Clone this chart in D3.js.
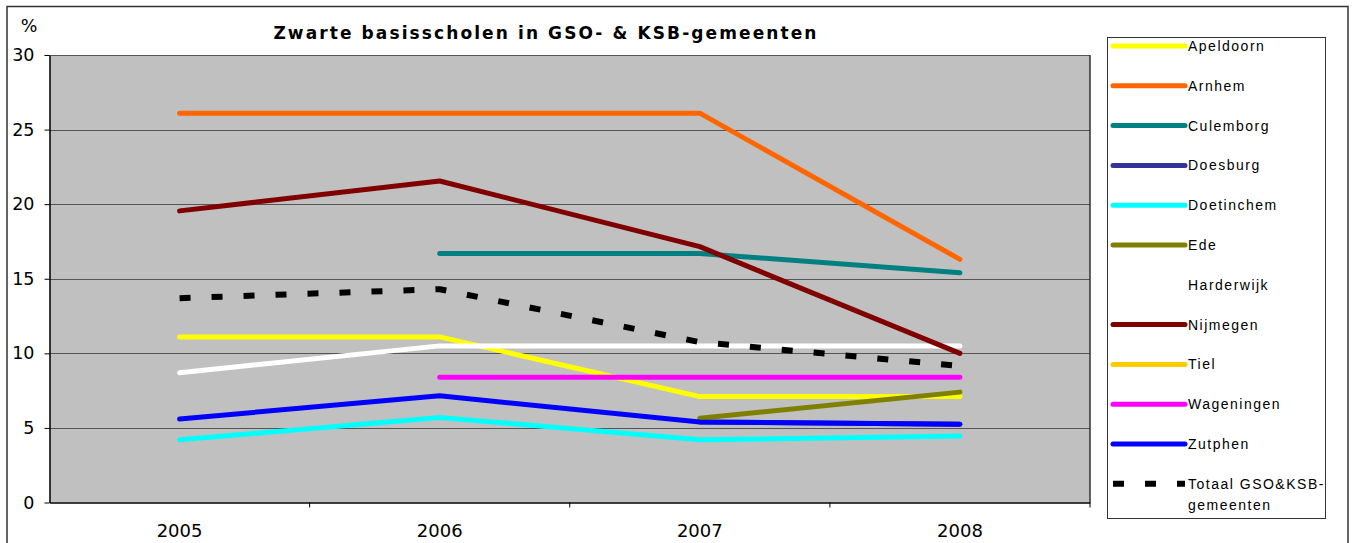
<!DOCTYPE html>
<html>
<head>
<meta charset="utf-8">
<script src="https://cdn.jsdelivr.net/npm/d3@7"></script>
<style>
  body { margin: 0; background: #fff; }
  svg { display: block; }
</style>
</head>
<body>
<svg id="chart"></svg>
<script>
// data
var years = ["2005", "2006", "2007", "2008"];
var yTicks = [0, 5, 10, 15, 20, 25, 30];

var apeldoorn  = [11.1, 11.1, 7.1, 7.1];
var arnhem     = [26.1, 26.1, 26.1, 16.3];
var culemborg  = [null, 16.7, 16.7, 15.4];
var doesburg   = [null, null, 5.4, 5.25];
var doetinchem = [4.2, 5.7, 4.2, 4.45];
var ede        = [null, null, 5.65, 7.4];
var harderwijk = [8.7, 10.5, 10.5, 10.5];
var nijmegen   = [19.55, 21.55, 17.15, 10.0];
var tiel       = [null, null, null, null];
var wageningen = [null, 8.4, 8.4, 8.4];
var zutphen    = [5.6, 7.15, 5.4, 5.25];
var totaal     = [13.7, 14.3, 10.75, 9.15];

var series = [
	{ name: "Apeldoorn", values: apeldoorn, color: "#ffff00" },
	{ name: "Arnhem", values: arnhem, color: "#ff6600" },
	{ name: "Culemborg", values: culemborg, color: "#008080" },
	{ name: "Doesburg", values: doesburg, color: "#333399" },
	{ name: "Doetinchem", values: doetinchem, color: "#00ffff" },
	{ name: "Ede", values: ede, color: "#808000" },
	{ name: "Harderwijk", values: harderwijk, color: "#ffffff" },
	{ name: "Nijmegen", values: nijmegen, color: "#800000" },
	{ name: "Tiel", values: tiel, color: "#ffcc00" },
	{ name: "Wageningen", values: wageningen, color: "#ff00ff" },
	{ name: "Zutphen", values: zutphen, color: "#0000ff" },
	{ name: "Totaal GSO&KSB-|gemeenten", values: totaal, color: "#000000", dashed: true }
];

var width = 1354, height = 543;
var plotLeft = 49.5, plotRight = 1090, plotTop = 55, plotBottom = 502.5;

var svg = d3.select("#chart")
	.attr("width", width)
	.attr("height", height);

// outer chart border
svg.append("rect")
	.attr("x", 7).attr("y", 6.5)
	.attr("width", 1341).attr("height", 560)
	.attr("fill", "#fff")
	.attr("stroke", "#333")
	.attr("stroke-width", 1.5);

var xScale = d3.scaleBand()
	.domain(years)
	.range([plotLeft, plotRight]);

var yScale = d3.scaleLinear()
	.domain([0, 30])
	.range([plotBottom, plotTop]);

// plot area
svg.append("rect")
	.attr("x", plotLeft).attr("y", plotTop)
	.attr("width", plotRight - plotLeft).attr("height", plotBottom - plotTop)
	.attr("fill", "#c0c0c0");

// gridlines
svg.append("g")
	.selectAll("line")
	.data(yTicks.filter(d => d > 0))
	.enter()
	.append("line")
		.attr("x1", plotLeft).attr("x2", plotRight)
		.attr("y1", d => Math.round(yScale(d)) + 0.5)
		.attr("y2", d => Math.round(yScale(d)) + 0.5)
		.attr("stroke", "#555")
		.attr("stroke-width", 1);

// right border of the plot
svg.append("line")
	.attr("x1", plotRight).attr("x2", plotRight)
	.attr("y1", plotTop).attr("y2", plotBottom)
	.attr("stroke", "#333")
	.attr("stroke-width", 1.5);

// y axis
var yAxis = d3.axisLeft(yScale)
	.tickValues(yTicks)
	.tickSize(5)
	.tickSizeOuter(0)
	.tickPadding(10);

var yG = svg.append("g")
	.attr("transform", `translate(${plotLeft}, 0)`)
	.call(yAxis);
yG.select(".domain").attr("stroke", "#000").attr("stroke-width", 1.5);
yG.selectAll(".tick line").attr("stroke", "#000");
yG.selectAll(".tick text")
	.attr("font-family", "DejaVu Sans")
	.attr("font-size", 17.5)
	.attr("fill", "#000");

// x axis: ticks at category boundaries
var xAxis = d3.axisBottom(xScale)
	.tickSize(0)
	.tickPadding(22);

var xG = svg.append("g")
	.attr("transform", `translate(0, ${plotBottom})`)
	.call(xAxis);
xG.select(".domain").attr("stroke", "#000").attr("stroke-width", 1.5);
xG.selectAll(".tick text")
	.attr("font-family", "DejaVu Sans")
	.attr("font-size", 18)
	.attr("fill", "#000");

xG.selectAll(".boundary")
	.data(years.slice(1).concat(["end"]))
	.enter()
	.append("line")
		.attr("x1", (d, i) => xScale(years[0]) + xScale.step() * (i + 1))
		.attr("x2", (d, i) => xScale(years[0]) + xScale.step() * (i + 1))
		.attr("y1", 0).attr("y2", 5)
		.attr("stroke", "#000");

// "%" label
svg.append("text")
	.attr("x", 29).attr("y", 32)
	.attr("text-anchor", "middle")
	.attr("font-family", "DejaVu Sans")
	.attr("font-size", 17.5)
	.text("%");

// title
svg.append("text")
	.attr("x", 546).attr("y", 39)
	.attr("text-anchor", "middle")
	.attr("font-family", "DejaVu Sans")
	.attr("font-weight", "bold")
	.attr("font-size", 17)
	.attr("letter-spacing", 2.1)
	.text("Zwarte basisscholen in GSO- & KSB-gemeenten");

// lines
var line = d3.line()
	.defined(d => d.v != null)
	.x(d => xScale(d.year) + xScale.bandwidth() / 2)
	.y(d => yScale(d.v));

svg.append("g")
	.selectAll("path")
	.data(series)
	.enter()
	.append("path")
		.attr("d", s => line(years.map((y, i) => ({ year: y, v: s.values[i] }))))
		.attr("fill", "none")
		.attr("stroke", s => s.color)
		.attr("stroke-width", s => s.dashed ? 6 : 5)
		.attr("stroke-linecap", s => s.dashed ? "butt" : "round")
		.attr("stroke-linejoin", "round")
		.attr("stroke-dasharray", s => s.dashed ? "11,21" : null);

// legend
var legendX = 1107, legendY = 37, legendRow = 39.8;

svg.append("rect")
	.attr("x", legendX + 0.5).attr("y", legendY + 0.5)
	.attr("width", 218).attr("height", 481)
	.attr("fill", "#fff")
	.attr("stroke", "#333");

var item = svg.append("g")
	.selectAll("g")
	.data(series)
	.enter()
	.append("g")
		.attr("transform", (d, i) => `translate(0, ${legendY + 9 + i * legendRow})`);

item.append("line")
	.attr("x1", 1113).attr("x2", 1185)
	.attr("y1", 0).attr("y2", 0)
	.attr("stroke", s => s.color)
	.attr("stroke-width", s => s.dashed ? 6 : 5)
	.attr("stroke-linecap", s => s.dashed ? "butt" : "round")
	.attr("stroke-dasharray", s => s.dashed ? "11,21" : null);

item.append("text")
	.attr("x", 1188)
	.attr("y", 5)
	.attr("font-family", "Liberation Sans")
	.attr("font-size", 14)
	.attr("letter-spacing", 1.5)
	.attr("fill", "#000")
	.selectAll("tspan")
	.data(s => s.name.split("|"))
	.enter()
	.append("tspan")
		.attr("x", 1188)
		.attr("dy", (d, i) => i === 0 ? 0 : 21)
		.text(d => d);
</script>
</body>
</html>
